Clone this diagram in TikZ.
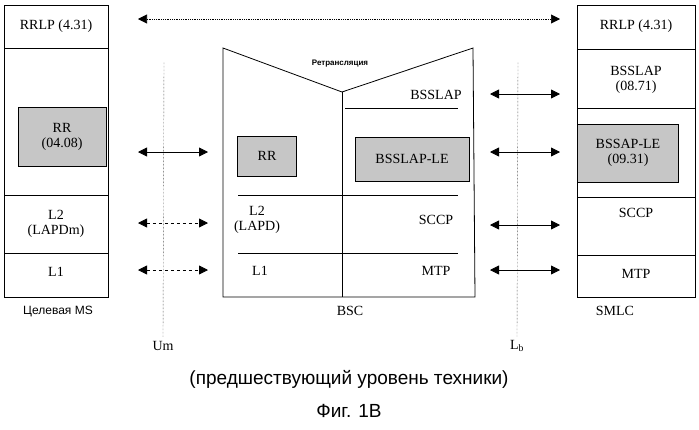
\documentclass[tikz,border=0pt]{standalone}
\usepackage{fontspec}
\setmainfont{Liberation Serif}
\setsansfont{Liberation Sans}
\usetikzlibrary{arrows.meta}
\tikzset{
  lay/.style={font=\fontsize{14}{15}\selectfont, align=center},
  shade/.style={draw, fill=gray!45},
  link/.style={{Triangle[length=9pt,width=9pt]}-{Triangle[length=9pt,width=9pt]}, thick},
  dlink/.style={link, dashed},
  iface/.style={densely dotted, thin}
}
\begin{document}
\begin{tikzpicture}[x=1pt,y=-1pt, semithick]
\useasboundingbox (0,0) rectangle (699,429);
% MS stack
\draw[thick] (4,5) rectangle (108,297);
\draw (4,48) -- (108,48) (4,195) -- (108,195) (4,253) -- (108,253);
\node[lay] (ms-rrlp) at (56,26) {RRLP (4.31)};
\node[shade, minimum width=88pt, minimum height=59pt, lay] (ms-rr) at (62,137) {RR\\(04.08)};
\node[lay] (ms-l2) at (56,224) {L2\\(LAPDm)};
\node[lay] (ms-l1) at (56,272) {L1};
\node[font=\sffamily\fontsize{12}{14}\selectfont] (ms) at (58,311) {Целевая MS};
% BSC
\draw[thick] (223,48) -- (342,92) -- (473,48) -- (475,297) -- (223,297) -- cycle;
\draw (342,92) -- (342,297);
\draw (345,108) -- (458,108);
\draw (238,195) -- (458,195) (238,253) -- (458,253);
\node[font=\sffamily\bfseries\fontsize{8}{9}\selectfont] (relay) at (340,64) {Ретрансляция};
\node[lay] (bsc-bsslap) at (436,95) {BSSLAP};
\node[shade, minimum width=59pt, minimum height=40pt, lay] (bsc-rr) at (267,156) {RR};
\node[shade, minimum width=114pt, minimum height=44pt, lay] (bsc-le) at (412,159) {BSSLAP-LE};
\node[lay] (bsc-l2) at (257,220) {L2\\(LAPD)};
\node[lay] (bsc-l1) at (260,271) {L1};
\node[lay] (bsc-sccp) at (436,220) {SCCP};
\node[lay] (bsc-mtp) at (436,271) {MTP};
\node[lay] (bsc) at (350,311) {BSC};
% SMLC stack
\draw[thick] (577,5) rectangle (695,297);
\draw (577,49) -- (695,49) (577,108) -- (695,108) (577,197) -- (695,197) (577,255) -- (695,255);
\node[lay] (sm-rrlp) at (636,26) {RRLP (4.31)};
\node[lay] (sm-bsslap) at (636,80) {BSSLAP\\(08.71)};
\node[shade, minimum width=101pt, minimum height=58pt, lay] (sm-le) at (628,153) {BSSAP-LE\\(09.31)};
\node[lay] (sm-sccp) at (636,213) {SCCP};
\node[lay] (sm-mtp) at (636,274) {MTP};
\node[lay] (smlc) at (615,311) {SMLC};
% interfaces
\coordinate (um-top) at (164,62);
\coordinate (lb-top) at (518,62);
\node[lay] (um) at (163,346) {Um};
\node[lay] (lb) at (517,346) {L\textsubscript{b}};
\draw[iface] (um-top) -- (um.north);
\draw[iface] (lb-top) -- (lb.north);
% peer links
\coordinate (r1) at (138,19); \coordinate (r2) at (560,19);
\draw[link, densely dotted, semithick] (r1) -- (r2);
\draw[link] (138,152) -- (208,152);
\draw[dlink] (138,223) -- (208,223);
\draw[dlink] (138,270) -- (208,270);
\foreach \y in {94,152,225,270}
  \draw[link] (490,\y) -- (560,\y);
% caption
\node[font=\sffamily\fontsize{19}{21}\selectfont] (cap) at (349,379) {(предшествующий уровень техники)};
\node[font=\sffamily\fontsize{19}{21}\selectfont] (fig) at (349,411) {Фиг. 1B};
\end{tikzpicture}
\end{document}
